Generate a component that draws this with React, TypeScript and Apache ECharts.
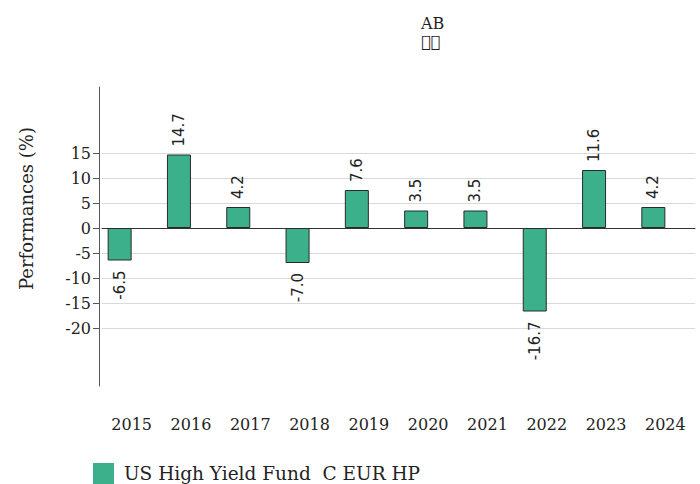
import React, { useEffect, useRef } from "react";
import * as echarts from "echarts";

const years = ["2015", "2016", "2017", "2018", "2019", "2020", "2021", "2022", "2023", "2024"];
const performances = [-6.5, 14.7, 4.2, -7.0, 7.6, 3.5, 3.5, -16.7, 11.6, 4.2];
const seriesName = "US High Yield Fund  C EUR HP";
const yTicks = { min: -20, max: 15, interval: 5 };
const outerRange = { min: -31.6, max: 28.2 };

const SERIF = "'DejaVu Serif', serif";

export default function App() {
  const ref = useRef<HTMLDivElement>(null);
  useEffect(() => {
    if (!ref.current) return;
    const chart = echarts.init(ref.current, undefined, { renderer: "svg" });
    const data = performances.map((v) => ({
      value: v,
      label: {
        show: true,
        position: v >= 0 ? "top" : "bottom",
        rotate: 90,
        align: v >= 0 ? "left" : "right",
        verticalAlign: "middle",
        distance: v >= 0 ? 8 : 10,
        formatter: (p: any) => Number(p.value).toFixed(1),
        fontFamily: "'DejaVu Sans', sans-serif",
        fontSize: 15,
        color: "#222",
      },
    }));
    chart.setOption({
      animation: false,
      backgroundColor: "#fff",
      textStyle: { fontFamily: SERIF },
      title: {
        text: "AB",
        subtext: "\uE000\uE001",
        left: 416,
        top: 10,
        itemGap: 2,
        textStyle: { fontFamily: SERIF, fontSize: 16, fontWeight: "normal", color: "#222" },
        subtextStyle: { fontFamily: SERIF, fontSize: 16, color: "#222" },
      },
      legend: {
        data: [seriesName],
        left: 88,
        top: 458,
        itemWidth: 21,
        itemHeight: 21,
        itemGap: 10,
        icon: "rect",
        itemStyle: { borderWidth: 0 },
        textStyle: { fontFamily: SERIF, fontSize: 18.5, lineHeight: 21, color: "#222", padding: [0, 0, 0, 5] },
      },
      grid: [
        { left: 102, right: 5, top: 87, height: 299 },
        { left: 102, right: 5, top: 153, height: 175 },
      ],
      xAxis: [
        {
          type: "category",
          gridIndex: 0,
          data: years,
          axisLine: { show: false },
          axisTick: { show: false },
          axisLabel: { margin: 30, fontFamily: SERIF, fontSize: 16, color: "#222" },
        },
        {
          type: "category",
          gridIndex: 1,
          data: years,
          axisLine: { show: true, onZero: true, lineStyle: { color: "#333", width: 1 } },
          axisTick: { show: false },
          axisLabel: { show: false },
        },
      ],
      yAxis: [
        {
          type: "value",
          gridIndex: 0,
          min: outerRange.min,
          max: outerRange.max,
          offset: 3,
          axisLine: { show: true, lineStyle: { color: "#555" } },
          axisTick: { show: false },
          axisLabel: { show: false },
          splitLine: { show: false },
        },
        {
          type: "value",
          gridIndex: 1,
          min: yTicks.min,
          max: yTicks.max,
          interval: yTicks.interval,
          offset: 3,
          name: "Performances (%)",
          nameLocation: "middle",
          nameGap: 64,
          nameTextStyle: { fontFamily: SERIF, fontSize: 18, color: "#222", padding: [0, 0, 0, 64] },
          axisLine: { show: false },
          axisTick: { show: true, length: 6, lineStyle: { color: "#555" } },
          axisLabel: { margin: 8, fontFamily: SERIF, fontSize: 16, color: "#222" },
          splitLine: { show: true, lineStyle: { color: "#d9d9d9" } },
        },
      ],
      series: [
        {
          name: seriesName,
          type: "bar",
          xAxisIndex: 0,
          yAxisIndex: 0,
          data,
          barWidth: 24,
          barGap: "0%",
          itemStyle: { color: "#3bb08b", borderColor: "#2a2a2a", borderWidth: 1 },
          z: 3,
        },
        {
          name: "spacer",
          type: "bar",
          xAxisIndex: 0,
          yAxisIndex: 0,
          data: [],
          barWidth: 24,
          barGap: "0%",
        },
      ],
    });
    return () => chart.dispose();
  }, []);
  return <div ref={ref} style={{ position: "fixed", left: 0, top: 0, width: 700, height: 484 }} />;
}
